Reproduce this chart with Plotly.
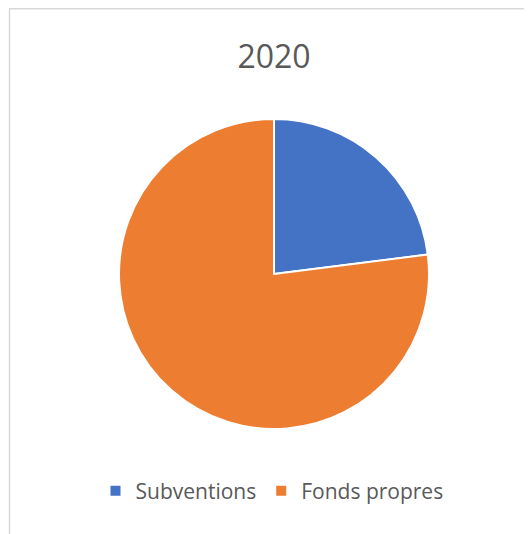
import plotly.graph_objects as go

labels = ["Subventions", "Fonds propres"]
values = [23, 77]
colors = ["#4472C4", "#ED7D31"]
title_text = "2020"

# page has an 8px body margin; figure sized to fit the 532x534 window
OFF = 8
W, H = 532 - OFF, 534 - OFF


def px(x):
    return (x - OFF) / W


def py(y):
    return 1 - (y - OFF) / H


fig = go.Figure()
fig.add_trace(go.Pie(
    labels=labels,
    values=values,
    sort=False,
    direction="clockwise",
    rotation=0,
    marker=dict(colors=colors, line=dict(color="white", width=2)),
    textinfo="none",
    hoverinfo="label+value+percent",
    domain=dict(x=[px(119), px(429)], y=[py(429), py(119)]),
))

fig.update_layout(
    width=W, height=H,
    margin=dict(l=0, r=0, t=0, b=0),
    paper_bgcolor="white",
    plot_bgcolor="white",
    title=dict(text=title_text, x=px(274), xanchor="center",
               y=py(57), yanchor="middle",
               font=dict(family="Open Sans", size=32, color="#595959")),
    showlegend=True,
    legend=dict(orientation="h", x=px(272), xanchor="center",
                y=py(491), yanchor="middle",
                font=dict(family="Open Sans", size=21, color="#595959"),
                itemwidth=30,
                traceorder="normal"),
    shapes=[
        dict(type="line", xref="paper", yref="paper",
             x0=px(9), y0=py(8.7), x1=1.01, y1=py(8.7),
             line=dict(color="#D9D9D9", width=1.5)),
        dict(type="line", xref="paper", yref="paper",
             x0=px(9.5), y0=py(8.7), x1=px(9.5), y1=-0.01,
             line=dict(color="#D9D9D9", width=1.5)),
    ],
)

fig.write_html("out.html")
